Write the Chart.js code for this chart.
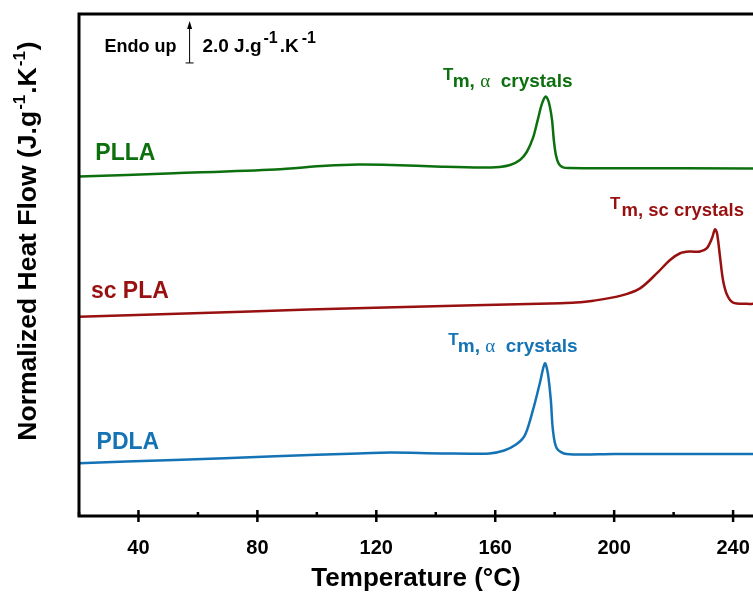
<!DOCTYPE html>
<html>
<head>
<meta charset="utf-8">
<script src="https://cdn.jsdelivr.net/npm/chart.js@4.4.0/dist/chart.umd.min.js"></script>
<style>
  html, body { margin: 0; padding: 0; background: #fff; }
</style>
</head>
<body>
<canvas id="myChart" width="753" height="592"></canvas>
<script>
// DSC curves (temperature in °C, normalized heat flow, shifted)
const pllaT  = [20, 52, 86, 103, 114, 125, 142, 155, 161.5, 165, 168.3, 170.6, 172.7, 174.3, 175.7, 177, 178, 179.1, 179.7, 180.4, 181.4, 182.8, 185, 200, 246.7];
const pllaHF = [16.16, 16.32, 16.50, 16.67, 16.73, 16.71, 16.63, 16.59, 16.62, 16.71, 16.95, 17.33, 18.0, 18.86, 19.62, 19.97, 19.71, 18.86, 17.9, 17.19, 16.76, 16.6, 16.57, 16.56, 16.55];

const scT  = [20, 75, 119.5, 153, 182, 187, 193, 202, 208.7, 214.4, 218.8, 222.2, 225.5, 228.9, 231.2, 232.9, 233.9, 234.6, 235.6, 236.6, 238, 240, 244.7, 246.7];
const scHF = [9.49, 9.73, 9.92, 10.03, 10.13, 10.16, 10.25, 10.48, 10.84, 11.56, 12.19, 12.51, 12.59, 12.59, 12.75, 13.22, 13.65, 13.46, 12.35, 11.24, 10.52, 10.16, 10.10, 10.10];

const pdlaT  = [20, 52, 86, 114, 125, 142, 158, 163, 167, 170, 172.7, 175, 176.7, 177.7, 178.7, 179.4, 180.7, 184, 200, 246.7];
const pdlaHF = [2.51, 2.67, 2.84, 2.98, 3.02, 2.98, 2.98, 3.12, 3.40, 3.85, 5.05, 6.32, 7.27, 6.79, 5.52, 4.10, 3.22, 2.95, 2.95, 2.95];

const majorTicks = [40, 80, 120, 160, 200, 240];
const minorTicks = [20, 60, 100, 140, 180, 220];
const scaleBar = 2.0; // J.g-1.K-1

const GREEN = '#0d700f';
const RED = '#981010';
const BLUE = '#1473b5';
const FONT = '"Liberation Sans", Arial, sans-serif';

function pts(xs, ys) { return xs.map((v, i) => ({ x: v, y: ys[i] })); }

// draws a run of text pieces, each with its own font and vertical shift
function drawParts(ctx, x, y, parts, color) {
  ctx.fillStyle = color;
  ctx.textBaseline = 'alphabetic';
  ctx.textAlign = 'left';
  parts.forEach(p => {
    ctx.font = p.font;
    ctx.fillText(p.t, x + (p.dx || 0), y - (p.up || 0));
    x += ctx.measureText(p.t).width + (p.dx || 0);
  });
}
function partsWidth(ctx, parts) {
  let w = 0;
  parts.forEach(p => { ctx.font = p.font; w += ctx.measureText(p.t).width + (p.dx || 0); });
  return w;
}

const decor = {
  id: 'decor',
  afterDatasetsDraw(chart) {
    const { ctx, chartArea: a, scales: { x, y } } = chart;
    ctx.save();

    // frame: left, top, bottom (right side is cut off)
    ctx.strokeStyle = '#000';
    ctx.lineWidth = 3;
    ctx.beginPath();
    ctx.moveTo(a.right + 5, a.top);
    ctx.lineTo(a.left, a.top);
    ctx.lineTo(a.left, a.bottom);
    ctx.lineTo(a.right + 5, a.bottom);
    ctx.stroke();

    ctx.lineWidth = 2.5;
    ctx.beginPath();
    majorTicks.forEach(v => {
      const px = x.getPixelForValue(v);
      ctx.moveTo(px, a.bottom - 6); ctx.lineTo(px, a.bottom + 6);
    });
    minorTicks.forEach(v => {
      const px = x.getPixelForValue(v);
      ctx.moveTo(px, a.bottom - 4); ctx.lineTo(px, a.bottom);
    });
    ctx.stroke();

    // series names
    ctx.font = 'bold 23px ' + FONT;
    ctx.textBaseline = 'middle';
    ctx.fillStyle = GREEN; ctx.fillText('PLLA', x.getPixelForValue(25.5), y.getPixelForValue(17.23));
    ctx.fillStyle = RED;   ctx.fillText('sc PLA', x.getPixelForValue(24), y.getPixelForValue(10.68));
    ctx.fillStyle = BLUE;  ctx.fillText('PDLA', x.getPixelForValue(25.9), y.getPixelForValue(3.47));

    // melting peak labels
    const tf = 'bold 17px ' + FONT, sf = 'bold 19px ' + FONT, gf = '19px "Liberation Serif", serif';
    const alpha = [{ t: 'm, ', font: sf }, { t: 'α', font: gf }, { t: '  crystals', font: sf }];
    const lab = (tT, subT, base, col, sub) => {
      const bx = y.getPixelForValue(base);
      drawParts(ctx, x.getPixelForValue(tT), bx - 7, [{ t: 'T', font: tf }], col);
      drawParts(ctx, x.getPixelForValue(subT), bx, sub, col);
    };
    lab(142.4, 145.7, 20.42, GREEN, alpha);
    lab(198.6, 202.5, 14.28, RED, [{ t: 'm, sc crystals', font: 'bold 18.5px ' + FONT }]);
    lab(144.2, 147.4, 7.8, BLUE, alpha);

    // endo up + scale arrow
    const ef = 'bold 18px ' + FONT, nf = 'bold 19px ' + FONT, sup = 'bold 16px ' + FONT;
    const ey = y.getPixelForValue(22.33) + 5;
    drawParts(ctx, x.getPixelForValue(28.6), ey, [{ t: 'Endo up', font: ef }], '#000');
    drawParts(ctx, x.getPixelForValue(61.5), ey, [
      { t: '2.0 J.g', font: nf }, { t: '-1', font: sup, up: 9, dx: 2 },
      { t: '.K', font: nf, dx: 2 }, { t: '-1', font: sup, up: 9, dx: 3 }], '#000');
    const ax = x.getPixelForValue(57.2);
    const y0 = y.getPixelForValue(21.57), y1 = y.getPixelForValue(21.57 + scaleBar);
    ctx.strokeStyle = '#000';
    ctx.lineWidth = 1;
    ctx.beginPath();
    ctx.moveTo(ax, y0); ctx.lineTo(ax, y1 + 4);
    ctx.moveTo(ax - 4, y0); ctx.lineTo(ax + 4, y0);
    ctx.stroke();
    ctx.fillStyle = '#000';
    ctx.beginPath();
    ctx.moveTo(ax, y1); ctx.lineTo(ax - 2.5, y1 + 8); ctx.lineTo(ax + 2.5, y1 + 8); ctx.closePath();
    ctx.fill();

    // y axis title with superscripts
    const yf = 'bold 26.5px ' + FONT, ys = 'bold 17px ' + FONT;
    const yt = [{ t: 'Normalized Heat Flow (J.g', font: yf }, { t: '-1', font: ys, up: 11, dx: 1 },
                { t: '.K', font: yf, dx: 1 }, { t: '-1', font: ys, up: 11, dx: 1 }, { t: ')', font: yf, dx: 1 }];
    ctx.translate(27 + 9, 241);
    ctx.rotate(-Math.PI / 2);
    drawParts(ctx, -partsWidth(ctx, yt) / 2, 0, yt, '#000');

    ctx.restore();
  }
};

const ctx = document.getElementById('myChart').getContext('2d');
const chart = new Chart(ctx, {
  type: 'line',
  data: {
    datasets: [
      { label: 'PLLA', data: pts(pllaT, pllaHF), borderColor: GREEN },
      { label: 'sc PLA', data: pts(scT, scHF), borderColor: RED },
      { label: 'PDLA', data: pts(pdlaT, pdlaHF), borderColor: BLUE },
    ]
  },
  options: {
    responsive: false,
    animation: false,
    elements: {
      line: { borderWidth: 2.5, tension: 0.3, fill: false },
      point: { radius: 0 }
    },
    layout: { padding: { left: 79, right: 0, top: 14, bottom: 0 } },
    plugins: { legend: { display: false }, tooltip: { enabled: false } },
    scales: {
      x: {
        type: 'linear',
        min: 20,
        max: 246.7,
        afterBuildTicks: s => { s.ticks = majorTicks.map(v => ({ value: v })); },
        afterFit: s => { s.paddingLeft = 0; s.paddingRight = 0; s.height = 76; },
        grid: { display: false, drawTicks: false },
        border: { display: false },
        ticks: {
          color: '#000',
          padding: 20,
          maxRotation: 0,
          autoSkip: false,
          font: { family: FONT, size: 20, weight: 'bold' }
        },
        title: {
          display: true,
          text: 'Temperature (°C)',
          color: '#000',
          padding: { top: 10, bottom: -2 },
          font: { family: FONT, size: 26, weight: 'bold' }
        }
      },
      y: {
        display: false,
        min: 0,
        max: 23.9
      }
    }
  },
  plugins: [decor]
});
</script>
</body>
</html>
